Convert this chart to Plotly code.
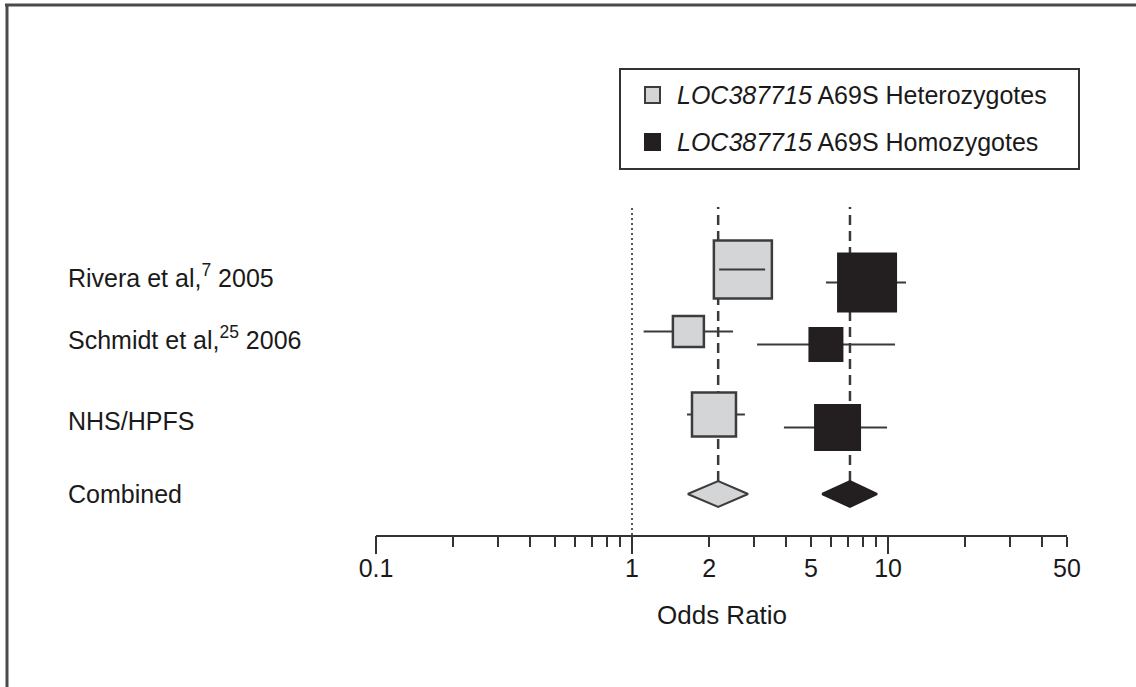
import math
import plotly.graph_objects as go

# ---------------- data ----------------
studies = ["Rivera et al,<sup>7</sup> 2005", "Schmidt et al,<sup>25</sup> 2006", "NHS/HPFS", "Combined"]

het_or = [2.71, 1.66, 2.09]
het_lo = [2.19, 1.11, 1.64]
het_hi = [3.31, 2.48, 2.76]
het_comb = [2.17, 1.65, 2.84]      # estimate, lower, upper

hom_or = [8.28, 5.72, 6.35]
hom_lo = [5.72, 3.08, 3.92]
hom_hi = [11.75, 10.65, 9.91]
hom_comb = [7.10, 5.52, 9.06]

all_ticks = [0.1, 0.2, 0.3, 0.4, 0.5, 0.6, 0.7, 0.8, 0.9, 1, 2, 3, 4, 5, 6, 7, 8, 9, 10, 20, 30, 40, 50]
decade_ticks = [0.1, 1, 10]
labeled_ticks = [0.1, 1, 2, 5, 10, 50]
tick_labels = ["0.1", "1", "2", "5", "10", "50"]
legend_labels = ["<i>LOC387715</i> A69S Heterozygotes", "<i>LOC387715</i> A69S Homozygotes"]

# ---------------- layout / style constants ----------------
W, H = 1136, 687
FONT = "Liberation Sans, Arial, Helvetica, sans-serif"
GREY = "#d3d5d6"
BLACK = "#231f20"
EDGE = "#3c3c3c"
LINE = "#3a3a3a"
row_y = [5.18, 3.94, 2.28, 0.82]   # vertical slot for each study row
off = 0.13                           # het above / hom below
het_size = [58, 31, 44]
hom_size = [60, 35, 47]
diamond_h = 0.26
line_top = 6.56
px_per_decade = 256.0


def px(x):
    return x / W


def py(y):
    return 1 - y / H


fig = go.Figure()

# reference line at OR = 1
fig.add_trace(go.Scatter(x=[1, 1], y=[0, line_top], mode="lines",
                         line=dict(color="#555555", width=2, dash="2px,3px"),
                         hoverinfo="skip", showlegend=False))
# dashed lines at combined estimates
for comb in (het_comb, hom_comb):
    fig.add_trace(go.Scatter(x=[comb[0], comb[0]], y=[row_y[3] + diamond_h, line_top], mode="lines",
                             line=dict(color=LINE, width=2.5, dash="10px,6px"),
                             hoverinfo="skip", showlegend=False))


def ci_segments(lo, hi, ys):
    xs, yy = [], []
    for a, b, y in zip(lo, hi, ys):
        xs += [a, b, None]
        yy += [y, y, None]
    return xs, yy


het_y = [r + off for r in row_y[:3]]
hom_y = [r - off for r in row_y[:3]]

# CI lines (beneath boxes)
for lo, hi, ys in ((het_lo, het_hi, het_y), (hom_lo, hom_hi, hom_y)):
    xs, yy = ci_segments(lo, hi, ys)
    fig.add_trace(go.Scatter(x=xs, y=yy, mode="lines", line=dict(color=LINE, width=2),
                             hoverinfo="skip", showlegend=False))

# boxes
fig.add_trace(go.Scatter(x=het_or, y=het_y, mode="markers",
                         marker=dict(symbol="square", size=het_size, color=GREY, opacity=1,
                                     line=dict(color=EDGE, width=2.5)),
                         hoverinfo="skip", showlegend=False))
fig.add_trace(go.Scatter(x=hom_or, y=hom_y, mode="markers",
                         marker=dict(symbol="square", size=hom_size, color=BLACK, opacity=1,
                                     line=dict(color=BLACK, width=0)),
                         hoverinfo="skip", showlegend=False))

# CI lines that lie completely inside their box are drawn on top of it
for e, a, b, y, s in zip(het_or, het_lo, het_hi, het_y, het_size):
    half = (s / 2) / px_per_decade
    if math.log10(a) > math.log10(e) - half and math.log10(b) < math.log10(e) + half:
        fig.add_trace(go.Scatter(x=[a, b], y=[y, y], mode="lines",
                                 line=dict(color=LINE, width=2),
                                 hoverinfo="skip", showlegend=False))

# combined diamonds
for comb, fill, edge in ((het_comb, GREY, EDGE), (hom_comb, BLACK, BLACK)):
    e, a, b = comb
    y0 = row_y[3]
    fig.add_trace(go.Scatter(x=[a, e, b, e, a], y=[y0, y0 + diamond_h, y0, y0 - diamond_h, y0],
                             mode="lines", fill="toself", fillcolor=fill,
                             line=dict(color=edge, width=2), hoverinfo="skip", showlegend=False))

# invisible trace to make the decade-tick axis render
fig.add_trace(go.Scatter(x=[1], y=[-5], xaxis="x2", mode="markers", marker=dict(opacity=0),
                         hoverinfo="skip", showlegend=False))

tick_text = [tick_labels[labeled_ticks.index(v)] if v in labeled_ticks else "" for v in all_ticks]

xdom = [376 / W, 1067 / W]
xr = [-1, math.log10(50)]
fig.update_layout(
    width=W, height=H, autosize=False,
    margin=dict(l=0, r=0, t=0, b=0, pad=0),
    paper_bgcolor="white", plot_bgcolor="white",
    font=dict(family=FONT, size=25, color="#1a1a1a"),
    # labelled axis with short ticks
    xaxis=dict(type="log", range=xr, domain=xdom, anchor="y", automargin=False,
               showgrid=False, zeroline=False, showline=True, linecolor="#333333", linewidth=2,
               ticks="outside", tickvals=all_ticks, ticktext=tick_text, ticklen=10, tickwidth=2,
               tickcolor="#333333",
               tickfont=dict(size=25, family=FONT, color="#1a1a1a")),
    # long decade ticks
    xaxis2=dict(type="log", range=xr, domain=xdom, anchor="y", overlaying="x", side="bottom",
                automargin=False, showgrid=False, zeroline=False, showline=False,
                ticks="outside", tickvals=decade_ticks, ticklen=18, tickwidth=2,
                tickcolor="#333333", showticklabels=False),
    yaxis=dict(range=[0, 10.7], domain=[(H - 535) / H, 1], visible=False,
               fixedrange=True, automargin=False),
    showlegend=False,
)

# axis title (centred under the axis)
fig.add_annotation(text="Odds Ratio", x=sum(xdom) / 2, y=py(615), xref="paper", yref="paper",
                   xanchor="center", yanchor="middle", showarrow=False,
                   font=dict(size=26, family=FONT))

# study labels
for lab, r in zip(studies, row_y):
    fig.add_annotation(text=lab, x=px(66), y=r, xref="paper", yref="y", xanchor="left",
                       yanchor="middle", showarrow=False, font=dict(size=25, family=FONT))

# frame (top + left)
fig.add_shape(type="line", x0=px(5), x1=1, y0=py(5), y1=py(5), xref="paper", yref="paper",
              line=dict(color="#4a4a4a", width=3))
fig.add_shape(type="line", x0=px(7), x1=px(7), y0=py(4), y1=0, xref="paper", yref="paper",
              line=dict(color="#4a4a4a", width=3))

# legend
fig.add_shape(type="rect", x0=px(620), x1=px(1079), y0=py(69), y1=py(169), xref="paper", yref="paper",
              line=dict(color="#333333", width=2), fillcolor="rgba(0,0,0,0)")
for i, (lab, fill, edge) in enumerate(zip(legend_labels, (GREY, BLACK), (EDGE, BLACK))):
    cy = 95 + i * 47
    fig.add_shape(type="rect", x0=px(645), x1=px(660), y0=py(cy - 8), y1=py(cy + 8),
                  xref="paper", yref="paper", fillcolor=fill, line=dict(color=edge, width=2))
    fig.add_annotation(text=lab, x=px(675), y=py(cy), xref="paper", yref="paper",
                       xanchor="left", yanchor="middle", showarrow=False,
                       font=dict(size=25, family=FONT))

fig.write_html("out.html", config={"responsive": False})
